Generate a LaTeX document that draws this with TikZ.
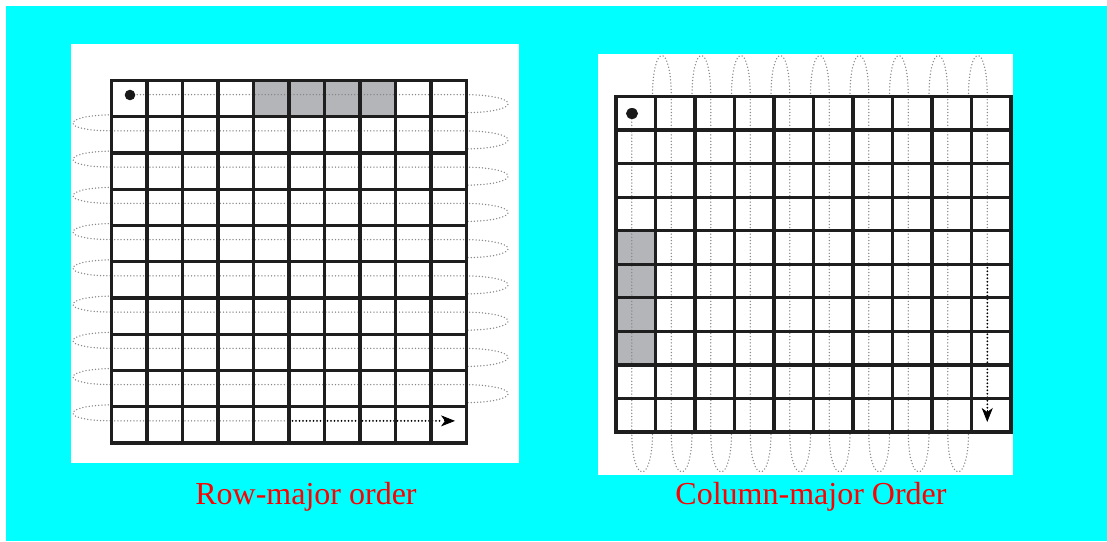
\documentclass[tikz,border=0pt]{standalone}
\usepackage{fontspec}
\setmainfont{Liberation Serif}
\usetikzlibrary{arrows.meta}
\definecolor{bgcyan}{RGB}{0,255,255}
\definecolor{cellgray}{RGB}{180,181,185}
\definecolor{gridcol}{RGB}{30,30,30}
\definecolor{dotgray}{RGB}{135,135,135}
\definecolor{labred}{RGB}{255,0,0}
\tikzset{
  gridline/.style={draw=gridcol, line width=3.3pt, line cap=rect},
  pathdots/.style={draw=dotgray, line width=1.5pt, line cap=round, dash pattern=on 0pt off 3.2pt},
  darkdots/.style={draw=black, line width=2pt, line cap=round, dash pattern=on 0pt off 3.5pt},
  cellfill/.style={fill=cellgray},
  label/.style={text=labred, font=\fontsize{32}{38}\selectfont, anchor=base, inner sep=0pt},
  tipstyle/.style={-{Stealth[length=14pt,width=11pt,inset=4pt]}}
}
\begin{document}
\begin{tikzpicture}[x=1pt,y=-1pt]
\useasboundingbox (0,0) rectangle (1107,541);
\fill[white] (0,0) rectangle (1107,541);
\fill[bgcyan] (6,6) rectangle (1107,541);
\fill[white] (71,44) rectangle (519,463);
\fill[white] (598,54) rectangle (1013,475);

% ---------------- Row-major panel ----------------
\def\L{111.5}\def\R{466.5}\def\T{80.5}\def\B{443}\def\cw{35.5}\def\rh{36.25}
\fill[cellfill] (\L+4*\cw,\T) rectangle (\L+8*\cw,\T+\rh);
% row lines
\draw[pathdots] (134,{\T+0.5*\rh-4}) -- (\R,{\T+0.5*\rh-4});
\foreach \i in {2,...,9}{
  \draw[pathdots] (\L,{\T+(\i-0.5)*\rh-4}) -- (\R,{\T+(\i-0.5)*\rh-4});
}
\coordinate (rstart) at (\L,{\T+9.5*\rh-4});
\coordinate (rmid) at ({\L+5*\cw},{\T+9.5*\rh-4});
\coordinate (rend) at (455,{\T+9.5*\rh-4});
\draw[pathdots] (rstart) -- (rmid);
\draw[darkdots] (rmid) -- (443,{\T+9.5*\rh-4});
\draw[tipstyle, draw=black, line width=0.8pt] (444,{\T+9.5*\rh-4}) -- (rend);
% loops
\foreach \i in {1,...,9}{
  \pgfmathsetmacro{\yc}{\T+(\i-0.5)*\rh-4}
  \pgfmathsetmacro{\yb}{\T+\i*\rh}
  \draw[pathdots] (\R,\yc) .. controls (522,\yc+1) and (522,\yb-5) .. (\R,\yb-4);
  \draw[pathdots] (\L,\yb-2) .. controls (60,\yb-1) and (60,\yb+14) .. (\L,\yb+14.1);
}
% grid
\foreach \k in {0,...,10}{
  \draw[gridline] ({\L+\k*\cw},\T) -- ({\L+\k*\cw},\B);
  \draw[gridline] (\L,{\T+\k*\rh}) -- (\R,{\T+\k*\rh});
}
\fill[black!90] (130,95) circle (5.3);

% ---------------- Column-major panel ----------------
\def\Lb{616}\def\Rb{1011}\def\Tb{96.5}\def\Bb{432}\def\cwb{39.5}\def\rhb{33.55}
\fill[cellfill] (\Lb,\Tb+4*\rhb) rectangle (\Lb+\cwb,\Tb+8*\rhb);
\draw[pathdots] ({\Lb+0.5*\cwb-4},119) -- ({\Lb+0.5*\cwb-4},\Bb);
\foreach \j in {2,...,9}{
  \draw[pathdots] ({\Lb+(\j-0.5)*\cwb-4},\Tb) -- ({\Lb+(\j-0.5)*\cwb-4},\Bb);
}
\coordinate (cstart) at ({\Lb+9.5*\cwb-4},\Tb);
\coordinate (cmid) at ({\Lb+9.5*\cwb-4},{\Tb+5*\rhb});
\coordinate (cend) at ({\Lb+9.5*\cwb-4},422);
\draw[pathdots] (cstart) -- (cmid);
\draw[darkdots] (cmid) -- ({\Lb+9.5*\cwb-4},409);
\draw[tipstyle, draw=black, line width=0.8pt] ({\Lb+9.5*\cwb-4},410) -- (cend);
\foreach \k in {1,...,9}{
  \pgfmathsetmacro{\xb}{\Lb+\k*\cwb}
  \pgfmathsetmacro{\xn}{\Lb+(\k+0.5)*\cwb-4}
  \pgfmathsetmacro{\xc}{\Lb+(\k-0.5)*\cwb-4}
  \draw[pathdots] (\xb-3,\Tb) .. controls (\xb-3,42) and (\xn,42) .. (\xn,\Tb);
  \draw[pathdots] (\xc,\Bb) .. controls (\xc,485) and (\xb-3,485) .. (\xb-3,\Bb);
}
\foreach \k in {0,...,10}{
  \draw[gridline] ({\Lb+\k*\cwb},\Tb) -- ({\Lb+\k*\cwb},\Bb);
  \draw[gridline] (\Lb,{\Tb+\k*\rhb}) -- (\Rb,{\Tb+\k*\rhb});
}
\fill[black!90] (632,113.5) ellipse (6 and 5.5);

% labels
\node[label] (lab1) at (306,504) {Row-major order};
\node[label] (lab2) at (811,504) {Column-major Order};
\end{tikzpicture}
\end{document}
